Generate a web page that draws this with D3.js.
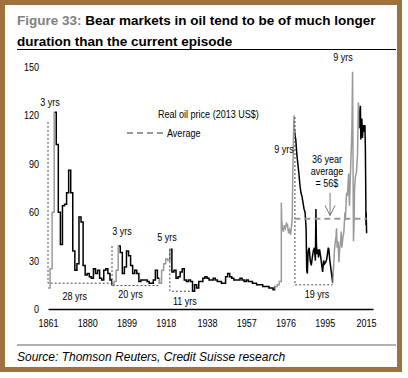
<!DOCTYPE html>
<html><head><meta charset="utf-8">
<script src="https://cdn.jsdelivr.net/npm/d3@7"></script>
<style>
html,body{margin:0;padding:0;background:#fff;}
svg text{font-family:"Liberation Sans",Arial,Helvetica,sans-serif;}
</style></head><body>
<svg id="c" width="408" height="378"></svg>
<script>
// ---------- data ----------
const annualStartYear = 1861;
const annualValues = [
  13,25,60,122,102,60,40,64,65,72,86,72,36,24,28,57,54,27,21,22,   // 1861-1880
  20,19,25,22,24,19,18,24,25,22,18,15,17,24,39,35,22,26,36,33,     // 1881-1900
  27,22,24,22,17,18,18,18,17,16,16,18,24,19,16,24,28,31,30,37,     // 1901-1920
  23,24,19,20,23,25,18,17,18,17,11,15,13,17,17,19,20,19,18,18,     // 1921-1940
  19,18,17,17,16,16,20,22,20,19,18,18,18,19,18,17,18,17,17,16,     // 1941-1960
  16,15,15,15,14,14,14,13,13,12,14,15,17                           // 1961-1973
];
const modernYears = [
  1974.0,1974.2,1974.5,1975.0,1975.5,1976.0,1976.5,1977.0,1977.5,1978.0,1978.5,1979.0,1979.3,1979.5,1979.8,1980.0,1980.2,
  1980.3,1980.6,1981.0,1981.5,1982.0,1982.5,1983.0,1983.5,1984.0,1984.5,1985.0,1985.5,1986.0,1986.3,1986.6,1987.0,1987.5,
  1988.0,1988.5,1989.0,1989.5,1990.0,1990.5,1990.75,1991.0,1991.3,1991.7,1992.0,1992.5,1993.0,1993.5,1994.0,1994.5,1995.0,
  1995.5,1996.0,1996.75,1997.0,1997.5,1998.0,1998.5,1998.9,
  1999.3,1999.7,2000.0,2000.5,2000.75,2001.0,2001.5,2001.9,2002.3,2002.7,2003.0,2003.3,2003.8,2004.3,2004.8,2005.0,2005.6,
  2006.0,2006.6,2007.0,2007.5,2007.9,2008.2,2008.5,2008.8,2008.95,2009.2,2009.5,2009.9,2010.4,2010.9,2011.3,
  2011.5,2011.7,2012.0,2012.3,2012.5,2012.7,2013.0,2013.3,2013.7,2014.0,2014.3,2014.5,2014.7,2014.9,2015.0,2015.1,2015.3
];
const modernValues = [
  66,55,50,48,52,50,53,52,47,49,46,52,57,80,100,115,120,
  112,108,105,96,90,84,77,72,70,66,62,60,50,24,22,36,38,
  30,27,32,36,38,30,62,40,34,37,32,37,33,28,23,30,28,
  29,31,38,37,30,25,20,16,
  25,36,40,45,50,38,42,29,38,42,48,38,44,48,60,55,72,
  70,84,64,85,100,112,147,75,42,52,75,82,85,96,128,
  118,112,120,126,105,116,118,106,114,110,112,114,100,72,52,60,47
];
const bullRanges = [[1861,1864],[1892,1895],[1915,1920],[1971,1980.2],[1998.9,2011.3]];
const bearMarkers = [
  {start:1861, end:1892, low:16, high:116},
  {start:1892, end:1915, low:14.5, high:39},
  {start:1920, end:1931, low:11, high:37},
  {start:1980.6, end:1998.9, low:15, high:119}
];
const durationLabels = [
  {text:"3 yrs", t:1862, v:126},
  {text:"28 yrs", t:1874, v:5.5},
  {text:"3 yrs", t:1896.8, v:46},
  {text:"20 yrs", t:1901, v:7},
  {text:"5 yrs", t:1918.6, v:42},
  {text:"11 yrs", t:1927.3, v:2.5},
  {text:"9 yrs", t:1975.3, v:97},
  {text:"19 yrs", t:1991.3, v:7},
  {text:"9 yrs", t:2003.9, v:154}
];
const averageNote = ["36 year","average","= 56$"];
const averageValue = 56;
const averageSpan = [1980.3, 2015.3];
const xTickLabels = [1861,1880,1899,1918,1938,1957,1976,1995,2015];
const yTickLabels = [0,30,60,90,120,150];

// ---------- drawing ----------
const svg = d3.select("#c");
const x = d3.scaleLinear().domain([1861, 2018.4]).range([48, 373]);
const y = d3.scaleLinear().domain([0, 150]).range([309, 67]);
const NARROW = 0.82;

// frame
svg.append("rect").attr("x",2.5).attr("y",2.5).attr("width",397).attr("height",367)
  .attr("fill","none").attr("stroke","#9e713d").attr("stroke-width",5);

// title
const title = svg.append("text").attr("x",17).attr("y",25)
  .attr("font-size","13.5px").attr("font-weight","bold");
title.append("tspan").attr("fill","#808080").text("Figure 33:");
title.append("tspan").attr("fill","#000").text(" Bear markets in oil tend to be of much longer");
svg.append("text").attr("x",17).attr("y",46)
  .attr("font-size","13.5px").attr("font-weight","bold").attr("fill","#000")
  .text("duration than the current episode");
svg.append("line").attr("x1",17).attr("x2",396).attr("y1",49.5).attr("y2",49.5)
  .attr("stroke","#000").attr("stroke-width",1.2);

// source
svg.append("line").attr("x1",17).attr("x2",396).attr("y1",345).attr("y2",345)
  .attr("stroke","#999").attr("stroke-width",1.5);
svg.append("text").attr("x",17).attr("y",361)
  .attr("font-size","12px").attr("font-style","italic").attr("fill","#000")
  .text("Source: Thomson Reuters, Credit Suisse research");

// axes
const yAxis = svg.append("g").attr("transform","translate(41,0)")
  .call(d3.axisLeft(y).tickValues(yTickLabels).tickSize(0).tickPadding(2));
yAxis.select(".domain").remove();
yAxis.selectAll("text").attr("font-size","11px").attr("fill","#000").classed("n",true)
  .style("font-family",'"Liberation Sans",Arial,sans-serif');

const xAxis = svg.append("g").attr("transform","translate(0,309)")
  .call(d3.axisBottom(x).tickValues(xTickLabels).tickFormat(d3.format("d")).tickSize(0).tickPadding(10));
xAxis.select(".domain").attr("stroke","#000").attr("stroke-width",1.3);
xAxis.selectAll("text").attr("font-size","11px").attr("fill","#000").classed("n",true)
  .style("font-family",'"Liberation Sans",Arial,sans-serif');

// series points (annual steps then modern)
const pts = [];
annualValues.forEach((v,i)=>{ const t=annualStartYear+i; pts.push([t,v]); pts.push([t+1,v]); });
modernYears.forEach((t,i)=>pts.push([t, modernValues[i]]));

const line = d3.line().x(d=>x(d[0])).y(d=>y(d[1]));

// clip paths
const defs = svg.append("defs");
const bullClip = defs.append("clipPath").attr("id","bull");
bullRanges.forEach(r=>bullClip.append("rect").attr("x",x(r[0])).attr("width",x(r[1])-x(r[0])+0.8)
  .attr("y",0).attr("height",378));
const bearClip = defs.append("clipPath").attr("id","bear");
const edges = [1850].concat(...bullRanges).concat([2030]);
for (let i=0;i<edges.length;i+=2){
  bearClip.append("rect").attr("x",x(edges[i])+(i?0.8:0)).attr("width",Math.max(0,x(edges[i+1])-x(edges[i])-(i?0.8:0)))
    .attr("y",0).attr("height",378);
}
svg.append("path").datum(pts).attr("d",line).attr("fill","none").attr("stroke","#000")
  .attr("stroke-width",1.5).attr("clip-path","url(#bear)");
svg.append("path").datum(pts).attr("d",line).attr("fill","none").attr("stroke","#999")
  .attr("stroke-width",1.5).attr("clip-path","url(#bull)");

// bear-market markers
bearMarkers.forEach(m=>{
  svg.append("path")
    .attr("d",`M${x(m.start)},${y(m.high)}V${y(m.low)}H${x(m.end)}`)
    .attr("fill","none").attr("stroke","#333").attr("stroke-width",0.9).attr("stroke-dasharray","2,2");
});

// average line
svg.append("line").attr("x1",x(averageSpan[0])).attr("x2",x(averageSpan[1]))
  .attr("y1",y(averageValue)).attr("y2",y(averageValue))
  .attr("stroke","#999").attr("stroke-width",2).attr("stroke-dasharray","6,4");

// duration labels
svg.selectAll("text.dur").data(durationLabels).enter().append("text").attr("class","dur n")
  .attr("x",d=>x(d.t)).attr("y",d=>y(d.v)).attr("text-anchor","middle")
  .attr("font-size","11px").attr("fill","#000").text(d=>d.text);

// average note
averageNote.forEach((s,i)=>{
  svg.append("text").attr("class","n").attr("x",x(1996.1)).attr("y",y(90.5)+i*12).attr("text-anchor","middle")
    .attr("font-size","11px").attr("fill","#000").text(s);
});
const ax = x(1997.6), ay0 = y(72), ay1 = y(58);
svg.append("line").attr("x1",ax).attr("x2",ax).attr("y1",ay0).attr("y2",ay1)
  .attr("stroke","#555").attr("stroke-width",0.8);
svg.append("path").attr("d",`M${ax-5},${ay1-10}L${ax},${ay1}L${ax+5},${ay1-10}`)
  .attr("fill","none").attr("stroke","#555").attr("stroke-width",0.8);

// legend
svg.append("text").attr("class","n").attr("x",158).attr("y",118).attr("font-size","11px").attr("fill","#000")
  .text("Real oil price (2013 US$)");
svg.append("line").attr("x1",127).attr("x2",163).attr("y1",133).attr("y2",133)
  .attr("stroke","#999").attr("stroke-width",2).attr("stroke-dasharray","6,4");
svg.append("text").attr("class","n").attr("x",167).attr("y",137).attr("font-size","11px").attr("fill","#000")
  .text("Average");

// condense narrow texts (reference uses a narrow face)
svg.selectAll("text.n").each(function(){
  const w = this.getComputedTextLength();
  d3.select(this).attr("textLength", w*NARROW).attr("lengthAdjust","spacingAndGlyphs");
});
</script>
</body></html>
